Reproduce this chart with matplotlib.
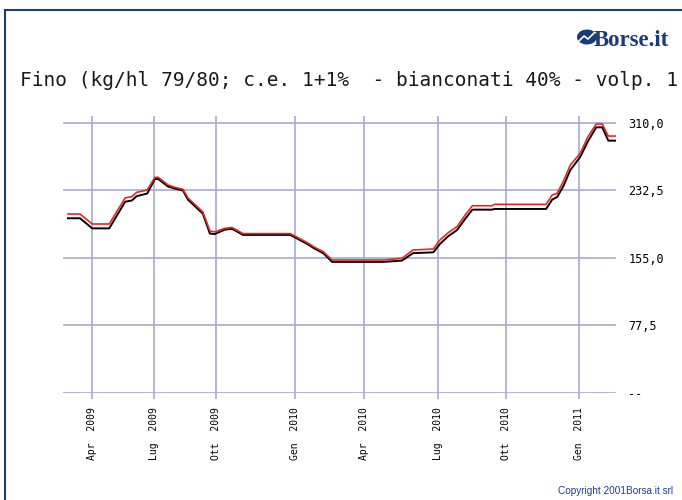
import matplotlib
matplotlib.use("Agg")
import matplotlib.pyplot as plt
from matplotlib.patches import Rectangle, Ellipse

# weekly quotes, x = observation position (weeks from first quote)
weeks = [0, 2.2, 4.4, 7.5, 10.4, 11.6, 12.5, 14.4, 15.8, 16.4, 18.2, 19.5,
         20.9, 21.8, 24.5, 25.8, 26.7, 28.5, 29.8, 30.4, 31.8, 40.4, 41.6,
         43.5, 44.9, 46.4, 48.0, 57.3, 60.7, 62.7, 66.4, 67.6, 69.1, 70.7,
         72.2, 73.5, 77.1, 77.5, 86.9, 88.0, 88.9, 90.0, 91.3, 93.1, 94.5,
         96.0, 97.1, 98.2, 99.5]
price_max = [205.5, 205.5, 194, 194, 224, 225.4, 230.4, 233, 247.6, 247.6,
             238.8, 236, 234, 224, 208, 186, 185, 189, 190, 188, 183, 183,
             179, 172.6, 167, 162.3, 152.7, 152.7, 154.6, 164.2, 165.3,
             175.7, 184, 191, 204.4, 215, 215, 216.6, 216.6, 227.3, 229.3,
             242.6, 261.8, 275.2, 294.3, 308.8, 308.8, 295, 295]
price_min = [200.6, 200.6, 189, 189, 219.6, 221, 226, 229, 245.7, 245.7,
             237, 234.5, 232.5, 222, 206, 183, 182.5, 187.5, 188.5, 186.5,
             181.5, 181.5, 177.5, 171, 165.5, 160.5, 150.5, 150.5, 152,
             160.5, 161.5, 171, 180, 187, 200, 210.5, 210.5, 211.3, 211.3,
             222, 225, 237, 256, 271, 289, 305, 305, 289.7, 289.7]

tick_pos = [4.4, 15.6, 26.9, 41.3, 53.8, 67.3, 79.6, 92.9]
tick_labels = ["Apr  2009", "Lug  2009", "Ott  2009", "Gen  2010",
               "Apr  2010", "Lug  2010", "Ott  2010", "Gen  2011"]
y_ticks = [0, 77.5, 155, 232.5, 310]
y_labels = ["--", "77,5", "155,0", "232,5", "310,0"]

W, H = 682, 500
fig = plt.figure(figsize=(W / 100, H / 100), dpi=100)
fig.patch.set_facecolor("white")

# outer frame
fig.patches.append(Rectangle((5 / W, -0.1), 1.2, 1 - 10 / H + 0.1,
                             transform=fig.transFigure, fill=False,
                             edgecolor="#1f3d6e", linewidth=1.5))

# logo: globe blob with a white trend stroke, then the name
fig.patches.append(Ellipse((587 / W, 1 - 37 / H), 20 / W, 15 / H, angle=-10,
                           transform=fig.transFigure, facecolor="#1b3b78",
                           edgecolor="none"))
fig.lines.append(plt.Line2D([579 / W, 584 / W, 588 / W, 595 / W],
                            [1 - 41 / H, 1 - 36 / H, 1 - 39 / H, 1 - 32 / H],
                            transform=fig.transFigure, color="white",
                            linewidth=1.2))
fig.text(669 / W, 1 - 46 / H, "Borse.it", ha="right", va="baseline",
         family="Liberation Serif", weight="bold", fontsize=16.5,
         color="#1b3b78")

fig.text(20 / W, 1 - 86 / H,
         "Fino (kg/hl 79/80; c.e. 1+1%  - bianconati 40% - volp. 1",
         family="DejaVu Sans Mono", fontsize=14, va="baseline", color="#1a1a1a")

fig.text(673 / W, 1 - 494 / H, "Copyright 2001Borsa.it srl", ha="right",
         va="baseline", family="Liberation Sans", fontsize=7.2,
         color="#1c3f8f")

# plot area: 63..616 px wide, 116..393 px tall
ax = fig.add_axes([63 / W, 1 - 393 / H, (616 - 63) / W, (393 - 116) / H])
ax.set_facecolor("none")
ax.plot(weeks, price_min, color="black", linewidth=1.4, zorder=3)
ax.plot(weeks, price_max, color="#e02828", linewidth=1.2, zorder=4)

ax.set_xlim(-0.9, 99.6)
ax.set_ylim(0, 318)
for s in ax.spines.values():
    s.set_visible(False)

grid_c = "#a7acd0"
ax.set_xticks(tick_pos)
ax.set_xticklabels(tick_labels, rotation=90, family="DejaVu Sans Mono",
                   fontsize=7, va="top")
ax.set_yticks(y_ticks)
ax.set_yticklabels(y_labels, family="DejaVu Sans Mono", fontsize=8.5)
ax.yaxis.tick_right()
ax.tick_params(axis="y", length=0, pad=9)
ax.tick_params(axis="x", length=4, color=grid_c, width=1.2, pad=6)
ax.grid(True, color=grid_c, linewidth=1.2, zorder=1)
ax.set_axisbelow(True)

fig.savefig("out.png", dpi=100)
